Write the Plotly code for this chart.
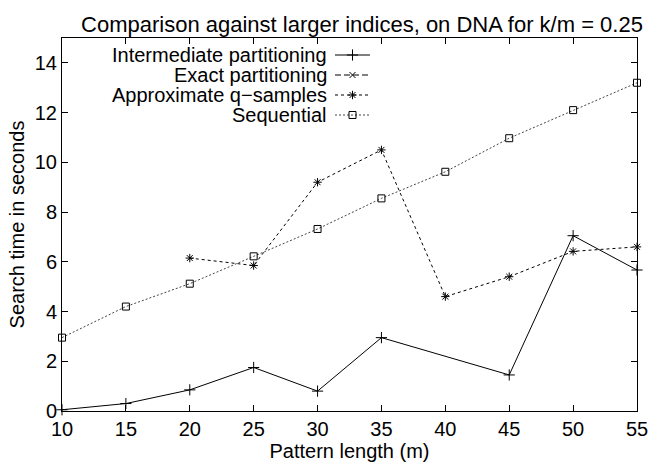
import plotly.graph_objects as go

# ---- data ----
pattern_len = [10, 15, 20, 25, 30, 35, 40, 45, 50, 55]
inter_x = [10, 15, 20, 25, 30, 35, 45, 50, 55]
inter_y = [0.05, 0.3, 0.85, 1.75, 0.8, 2.95, 1.45, 7.05, 5.67]
exact_x = []
exact_y = []
approx_x = [20, 25, 30, 35, 40, 45, 50, 55]
approx_y = [6.15, 5.85, 9.2, 10.5, 4.6, 5.4, 6.42, 6.6]
seq_x = pattern_len
seq_y = [2.95, 4.2, 5.12, 6.22, 7.32, 8.55, 9.62, 10.97, 12.1, 13.2]
x_ticks = [10, 15, 20, 25, 30, 35, 40, 45, 50, 55]
y_ticks = [0, 2, 4, 6, 8, 10, 12, 14]
series_names = ["Intermediate partitioning", "Exact partitioning",
                "Approximate q\u2212samples", "Sequential"]

W, H = 649, 466
L, R, T, B = 62, 637, 38, 411
FONT = "Liberation Sans, Arial, Helvetica, sans-serif"
FS = 20


def px(xp):
    return (xp - L) / (R - L)


def py(yp):
    return (B - yp) / (B - T)


styles = [
    dict(dash="solid", symbol="cross-thin-open", size=8, color="black"),
    dict(dash="6px,3px", symbol="x-thin-open", size=6, color="black"),
    dict(dash="3px,3px", symbol="asterisk-open", size=7, color="black"),
    dict(dash="2px,2px", symbol="square-open", size=7, color="#444"),
]
data = [(inter_x, inter_y), (exact_x, exact_y), (approx_x, approx_y), (seq_x, seq_y)]

fig = go.Figure()
for (xs, ys), st, name in zip(data, styles, series_names):
    fig.add_trace(go.Scatter(
        x=xs, y=ys, mode="lines+markers", name=name, showlegend=False,
        line=dict(color=st["color"], width=1, dash=st["dash"]),
        marker=dict(symbol=st["symbol"], size=st["size"], color="black",
                    line=dict(color="black", width=1)),
        cliponaxis=False,
    ))

# gnuplot-style key (text right-aligned, sample to the right) on an overlay axis
leg_rows = [55, 75, 95, 115]
for i, (st, name) in enumerate(zip(styles, series_names)):
    yy = py(leg_rows[i])
    fig.add_trace(go.Scatter(
        x=[px(335), px(352.5), px(370)], y=[yy, yy, yy], xaxis="x2", yaxis="y2",
        mode="lines", showlegend=False, hoverinfo="skip",
        line=dict(color=st["color"], width=1, dash=st["dash"]),
    ))
    fig.add_trace(go.Scatter(
        x=[px(352.5)], y=[yy], xaxis="x2", yaxis="y2",
        mode="markers", showlegend=False, hoverinfo="skip",
        marker=dict(symbol=st["symbol"], size=st["size"], color="black",
                    line=dict(color="black", width=1)),
    ))
    fig.add_annotation(x=px(328), y=yy, xref="paper", yref="paper",
                       text=name, showarrow=False, xanchor="right", yanchor="middle",
                       borderpad=0,
                       font=dict(family=FONT, size=20, color="black"))

fig.update_layout(
    width=W, height=H,
    margin=dict(l=L, r=W - R, t=T, b=H - B, pad=0, autoexpand=False),
    paper_bgcolor="white", plot_bgcolor="white",
    font=dict(family=FONT, size=FS, color="black"),
    title=dict(text="Comparison against larger indices, on DNA for k/m = 0.25",
               x=362 / W, xanchor="center", y=1 - 24 / H, yanchor="middle",
               font=dict(family=FONT, size=22, color="black")),
    xaxis=dict(range=[10, 55], tickvals=x_ticks, ticktext=[str(v) for v in x_ticks],
               ticks="inside", ticklen=6, tickcolor="black", showline=True,
               linecolor="black", linewidth=1, mirror="allticks", showgrid=False,
               zeroline=False, automargin=False,
               title=dict(text="Pattern length (m)", standoff=4,
                          font=dict(family=FONT, size=FS))),
    yaxis=dict(range=[0, 15], tickvals=y_ticks, ticktext=[str(v) for v in y_ticks],
               ticks="inside", ticklen=6, tickcolor="black", showline=True,
               linecolor="black", linewidth=1, mirror="allticks", showgrid=False,
               zeroline=False, automargin=False,
               title=dict(text="Search time in seconds", standoff=4,
                          font=dict(family=FONT, size=FS))),
    xaxis2=dict(range=[0, 1], overlaying="x", visible=False, fixedrange=True),
    yaxis2=dict(range=[0, 1], overlaying="y", visible=False, fixedrange=True),
)

fig.write_html("out.html")
